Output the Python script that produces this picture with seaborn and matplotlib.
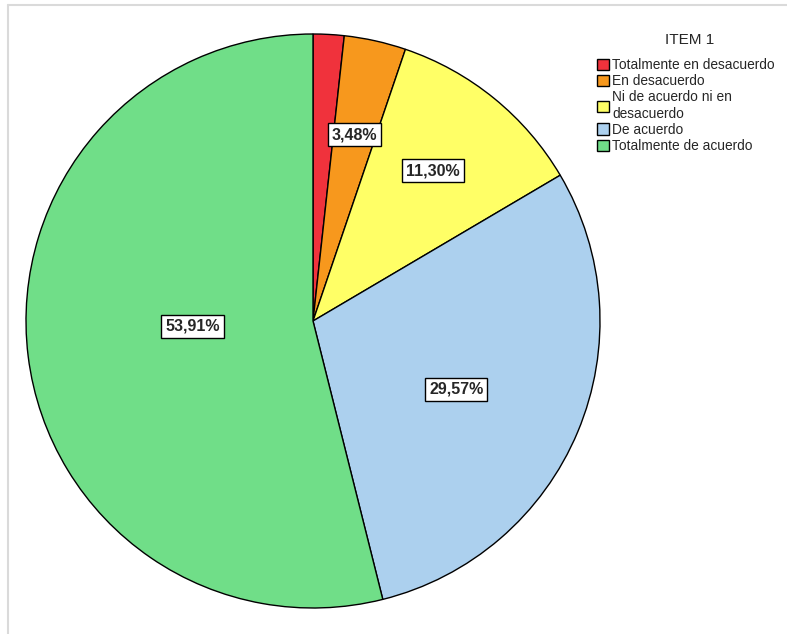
import matplotlib
matplotlib.use("Agg")
import matplotlib.pyplot as plt
import seaborn as sns
import numpy as np

categories = ["Totalmente en desacuerdo", "En desacuerdo", "Ni de acuerdo ni en\ndesacuerdo",
              "De acuerdo", "Totalmente de acuerdo"]
values = [1.74, 3.48, 11.30, 29.57, 53.91]
labels_shown = [None, "3,48%", "11,30%", "29,57%", "53,91%"]
colors = ["#F0323C", "#F7981D", "#FFFF66", "#ACD0EE", "#70DE88"]
label_radius = [0.0, 0.664, 0.67, 0.553, 0.42]
label_angle_offset = [0.0, 0.0, -0.6, 2.7, 4.6]

sns.set_theme(style="white")
plt.rcParams['font.family'] = ['Liberation Sans', 'DejaVu Sans']

W, H = 787, 634
fig = plt.figure(figsize=(W / 100, H / 100), dpi=100)
cx, cy, r = 313, 321, 287
ax = fig.add_axes([(cx - r) / W, 1 - (cy + r) / H, 2 * r / W, 2 * r / H])

wedges, _ = ax.pie(values, colors=colors, startangle=90, counterclock=False,
                   wedgeprops=dict(edgecolor="black", linewidth=1.0))
ax.set_xlim(-1, 1)
ax.set_ylim(-1, 1)
ax.axis("off")

cum = np.cumsum([0] + values[:-1])
total = sum(values)
for v, c0, lab, lr, off in zip(values, cum, labels_shown, label_radius, label_angle_offset):
    if lab is None:
        continue
    mid = (c0 + v / 2) / total * 2 * np.pi + np.deg2rad(off)
    x = lr * np.sin(mid)
    y = lr * np.cos(mid)
    ax.text(x, y, lab, ha="center", va="center", fontsize=11.5, fontweight="bold",
            bbox=dict(boxstyle="square,pad=0.25", facecolor="white", edgecolor="black", linewidth=1.0))

leg = fig.legend(wedges, categories, loc="upper left",
                 bbox_to_anchor=(597 / W, 1 - 58 / H), frameon=False,
                 fontsize=9.9, handlelength=0.9, handleheight=0.9,
                 handletextpad=0.22, labelspacing=0.16, borderaxespad=0, borderpad=0)
for h in leg.legend_handles:
    h.set_edgecolor("black")
    h.set_linewidth(1.0)
fig.text(690 / W, 1 - 40 / H, "ITEM 1", ha="center", va="center", fontsize=11)

# light frame lines
fig.add_artist(plt.Line2D([8 / W, 8 / W], [0, 1 - 5 / H], transform=fig.transFigure,
                          color="#DADADA", linewidth=1.5))
fig.add_artist(plt.Line2D([8 / W, 1], [1 - 5 / H, 1 - 5 / H], transform=fig.transFigure,
                          color="#DADADA", linewidth=1.5))

fig.savefig("out.png", dpi=100)
